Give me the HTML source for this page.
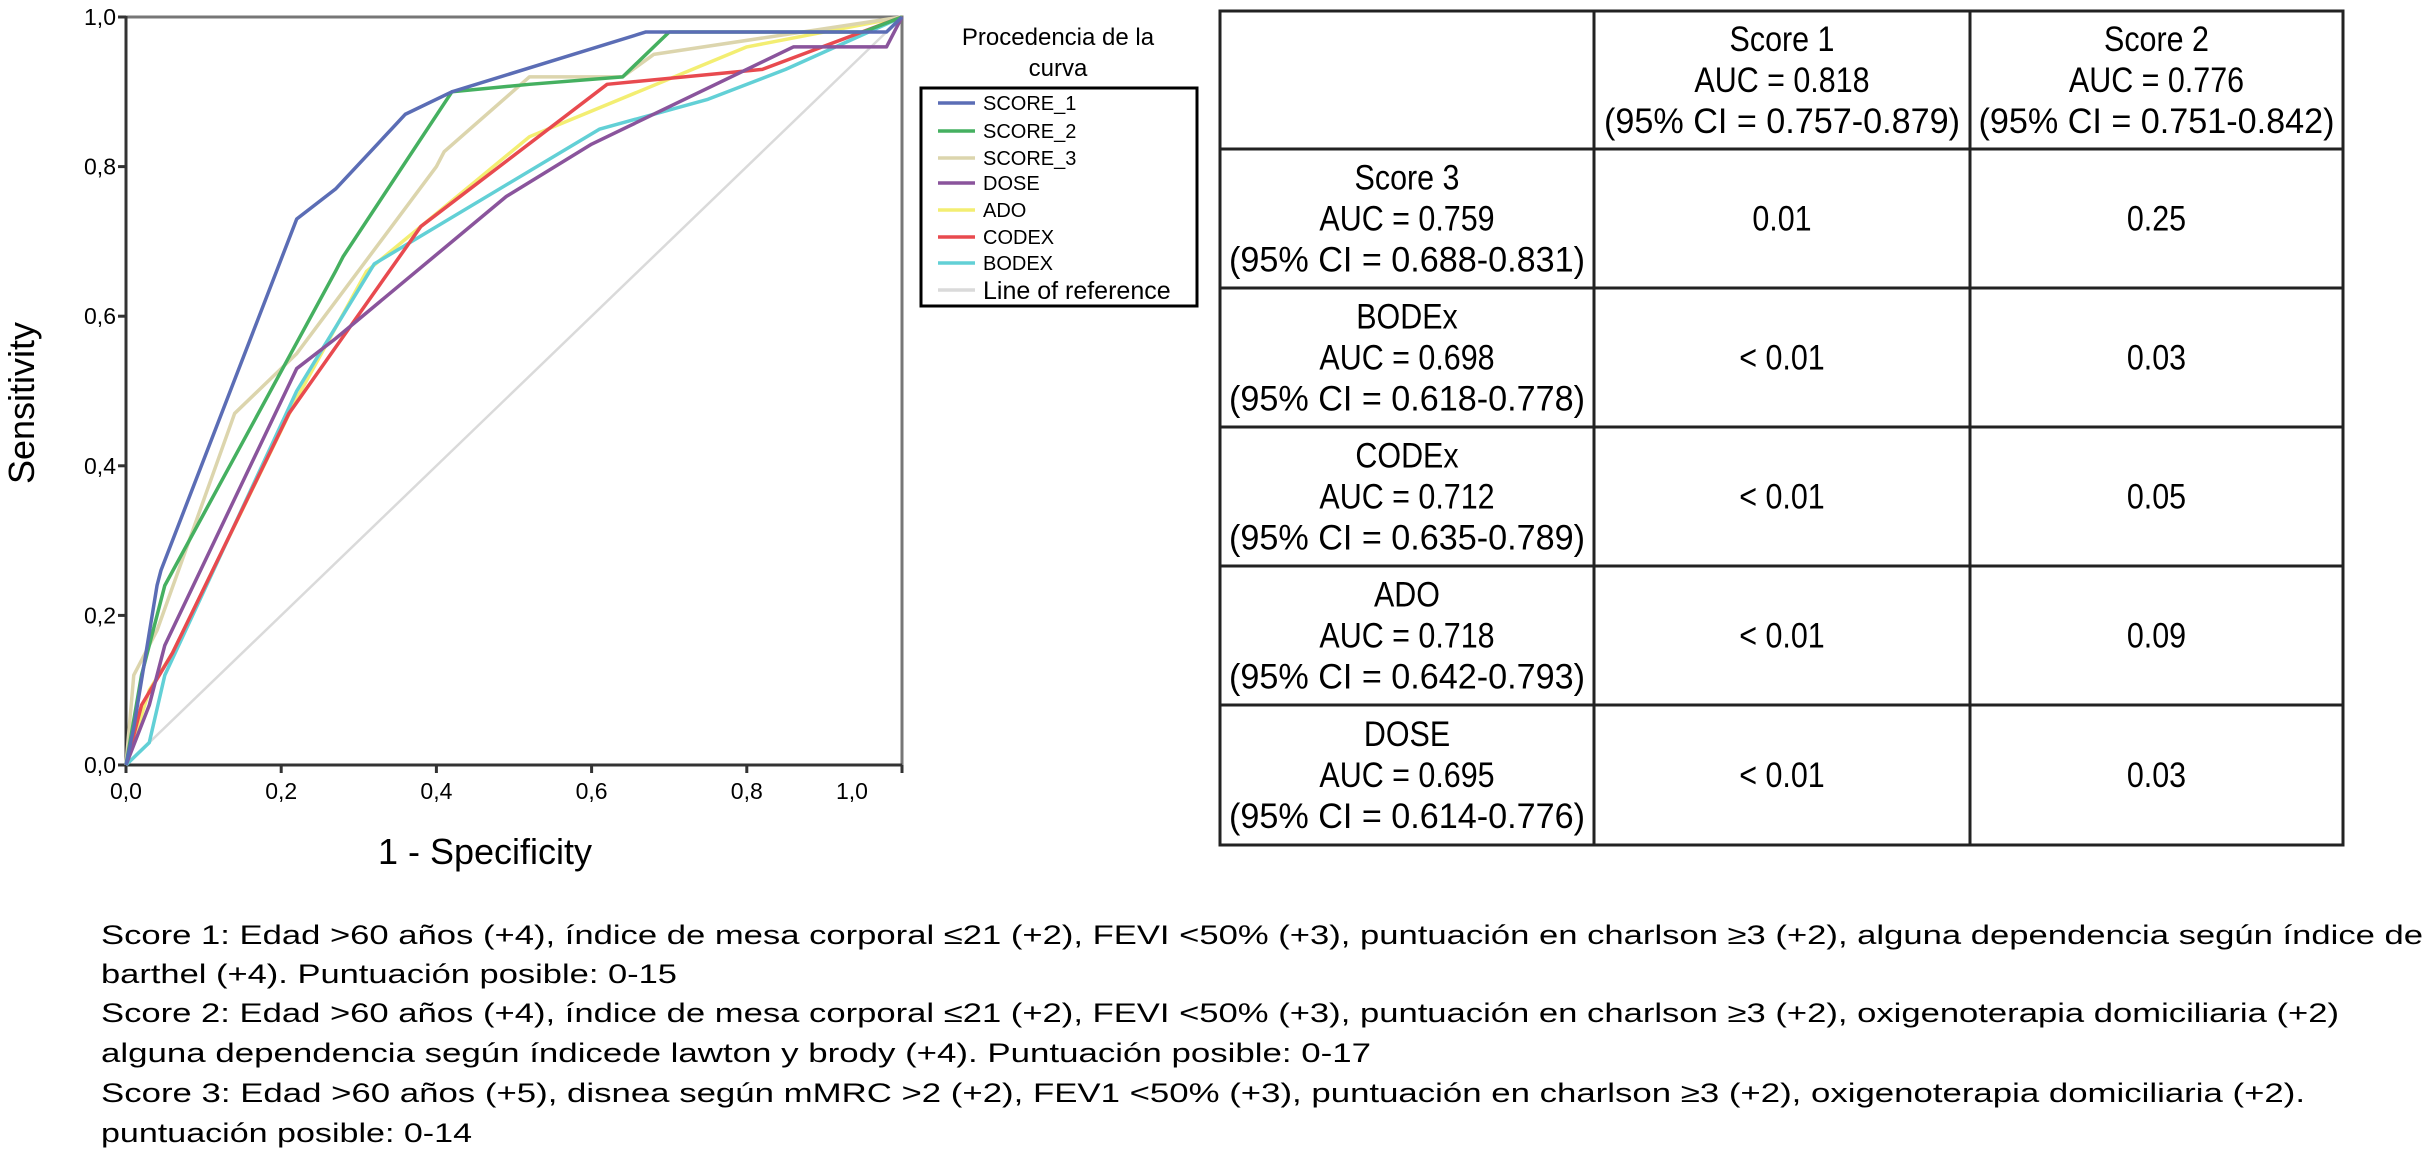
<!DOCTYPE html>
<html><head><meta charset="utf-8"><style>
html,body{margin:0;padding:0;background:#fff;}
svg{display:block;font-family:"Liberation Sans",sans-serif;}
</style></head><body>
<svg id="svg" width="2429" height="1161" viewBox="0 0 2429 1161" xmlns="http://www.w3.org/2000/svg">
<g id="plot"></g>
<g>
  <text x="1058" y="45" font-size="24" text-anchor="middle">Procedencia de la</text>
  <text x="1058" y="76" font-size="24" text-anchor="middle">curva</text>
  <rect x="921" y="88" width="276" height="218" fill="none" stroke="#000" stroke-width="3"/>
  <g id="legendItems"></g>
</g>
<g id="table"></g>
<g font-size="27">
  <text x="101" y="944" textLength="2322" lengthAdjust="spacingAndGlyphs">Score 1: Edad &gt;60 años (+4), índice de mesa corporal ≤21 (+2), FEVI &lt;50% (+3), puntuación en charlson ≥3 (+2), alguna dependencia según índice de</text>
  <text x="101" y="983" textLength="576" lengthAdjust="spacingAndGlyphs">barthel (+4). Puntuación posible: 0-15</text>
  <text x="101" y="1022" textLength="2238" lengthAdjust="spacingAndGlyphs">Score 2: Edad &gt;60 años (+4), índice de mesa corporal ≤21 (+2), FEVI &lt;50% (+3), puntuación en charlson ≥3 (+2), oxigenoterapia domiciliaria (+2)</text>
  <text x="101" y="1062" textLength="1270" lengthAdjust="spacingAndGlyphs">alguna dependencia según índicede lawton y brody (+4). Puntuación  posible: 0-17</text>
  <text x="101" y="1102" textLength="2204" lengthAdjust="spacingAndGlyphs">Score 3: Edad &gt;60 años (+5),  disnea según mMRC &gt;2 (+2), FEV1 &lt;50% (+3), puntuación en charlson ≥3 (+2), oxigenoterapia domiciliaria (+2).</text>
  <text x="101" y="1142" textLength="371" lengthAdjust="spacingAndGlyphs">puntuación posible: 0-14</text>
</g>
</svg>
<script>
const NS="http://www.w3.org/2000/svg";
const seriesNames=["SCORE_1","SCORE_2","SCORE_3","DOSE","ADO","CODEX","BODEX","Line of reference"];
const seriesColors=["#5b6db5","#45b060","#dcd5ad","#8a549c","#f3ee72","#e84a4f","#62d0d6","#dadada"];
const score1X=[0,0.01,0.04,0.045,0.22,0.27,0.36,0.42,0.67,0.98,1];
const score1Y=[0,0.05,0.24,0.26,0.73,0.77,0.87,0.9,0.98,0.98,1];
const score2X=[0,0.02,0.05,0.27,0.28,0.42,0.52,0.64,0.7,0.95,1];
const score2Y=[0,0.12,0.24,0.66,0.68,0.9,0.91,0.92,0.98,0.98,1];
const score3X=[0,0.01,0.04,0.14,0.22,0.4,0.41,0.52,0.64,0.68,1];
const score3Y=[0,0.12,0.18,0.47,0.55,0.8,0.82,0.92,0.92,0.95,1];
const doseX=[0,0.03,0.05,0.22,0.27,0.49,0.6,0.86,0.98,1];
const doseY=[0,0.08,0.16,0.53,0.57,0.76,0.83,0.96,0.96,1];
const adoX=[0,0.03,0.06,0.22,0.31,0.52,0.8,1];
const adoY=[0,0.1,0.15,0.49,0.66,0.84,0.96,1];
const codexX=[0,0.02,0.06,0.21,0.38,0.62,0.82,1];
const codexY=[0,0.08,0.15,0.47,0.72,0.91,0.93,1];
const bodexX=[0,0.03,0.05,0.22,0.32,0.61,0.75,0.85,1];
const bodexY=[0,0.03,0.12,0.5,0.67,0.85,0.89,0.93,1];
const refX=[0,1];
const refY=[0,1];
const tickValues=[0,0.2,0.4,0.6,0.8,1.0];
const tickLabels=["0,0","0,2","0,4","0,6","0,8","1,0"];
const headerCols=[["Score 1","AUC = 0.818","(95% CI = 0.757-0.879)"],["Score 2","AUC = 0.776","(95% CI = 0.751-0.842)"]];
const rowHeaders=[["Score 3","AUC = 0.759","(95% CI = 0.688-0.831)"],["BODEx","AUC = 0.698","(95% CI = 0.618-0.778)"],["CODEx","AUC = 0.712","(95% CI = 0.635-0.789)"],["ADO","AUC = 0.718","(95% CI = 0.642-0.793)"],["DOSE","AUC = 0.695","(95% CI = 0.614-0.776)"]];
const pScore1=["0.01","< 0.01","< 0.01","< 0.01","< 0.01"];
const pScore2=["0.25","0.03","0.05","0.09","0.03"];

const X0=126,X1=902,Y0=765,Y1=17;
function sx(v){return X0+v*(X1-X0);}
function sy(v){return Y0-v*(Y0-Y1);}
function mk(tag,attrs,parent,text){const e=document.createElementNS(NS,tag);for(const k in attrs)e.setAttribute(k,attrs[k]);if(text!==undefined)e.textContent=text;parent.appendChild(e);return e;}
const plot=document.getElementById('plot');
const fr=mk('path',{d:`M${X0},${Y1}H${X1}V${Y0}`,fill:'none',stroke:'#777','stroke-width':3},plot);


const ax=mk('path',{d:`M${X0},${Y1-1}V${Y0}H${X1}`,fill:'none',stroke:'#333','stroke-width':3},plot);


tickValues.forEach((v,i)=>{
  const t1=mk('line',{x1:X0-8,x2:X0,y1:sy(v),y2:sy(v),stroke:'#333','stroke-width':3},plot);
  
  
  const l1=mk('text',{x:X0-10,y:sy(v)+8,'font-size':23,'text-anchor':'end'},plot,tickLabels[i]);
  
  
  const t2=mk('line',{x1:sx(v),x2:sx(v),y1:Y0,y2:Y0+8,stroke:'#333','stroke-width':3},plot);
  
  
  const l2=mk('text',{x:sx(v)+(i==5?-50:0),y:Y0+34,'font-size':23,'text-anchor':'middle'},plot,tickLabels[i]);
  
  
});
const yt=mk('text',{x:0,y:0,'font-size':36,'text-anchor':'middle',transform:'translate(34,403) rotate(-90)'},plot,'Sensitivity');


const xt=mk('text',{x:485,y:864,'font-size':36,'text-anchor':'middle'},plot,'1 - Specificity');


const allX=[score1X,score2X,score3X,doseX,adoX,codexX,bodexX,refX];
const allY=[score1Y,score2Y,score3Y,doseY,adoY,codexY,bodexY,refY];
const order=[7,4,2,6,5,3,1,0];
order.forEach(s=>{
  const pts=allX[s].map((x,i)=>sx(x)+','+sy(allY[s][i])).join(' ');
  const pl=mk('polyline',{points:pts,fill:'none',stroke:seriesColors[s],'stroke-width':s==7?2.5:3.5,'stroke-linejoin':'round'},plot);
  
  
});
const li=document.getElementById('legendItems');
const ly=[103,131,158,183,210,237,263,290];
seriesNames.forEach((n,i)=>{
  const l=mk('line',{x1:938,x2:975,y1:ly[i],y2:ly[i],stroke:seriesColors[i],'stroke-width':3.5},li);
  
  
  const t=mk('text',{x:983,y:ly[i]+(i==7?9:7),'font-size':i==7?25:20},li,n);
  
  
});
const tb=document.getElementById('table');
const cx=[1220,1594,1970,2343];
const ry=[11,149,288,427,566,705,845];
const gp=mk('rect',{x:cx[0],y:ry[0],width:cx[3]-cx[0],height:ry[6]-ry[0],fill:'none',stroke:'#222','stroke-width':3},tb);


[cx[1],cx[2]].forEach(x=>{const l=mk('line',{x1:x,x2:x,y1:ry[0],y2:ry[6],stroke:'#222','stroke-width':3},tb);});
ry.slice(1,6).forEach(y=>{const l=mk('line',{x1:cx[0],x2:cx[3],y1:y,y2:y,stroke:'#222','stroke-width':3},tb);});
function cell(lines,x0,x1,y0,y1,name){
  const cxm=(x0+x1)/2, cym=(y0+y1)/2, lh=41;
  const start=cym-(lines.length-1)*lh/2;
  lines.forEach((s,i)=>{
    const attrs={x:cxm,y:start+i*lh+12,'font-size':35,'text-anchor':'middle'};
    if(s.length>15){attrs.textLength=356;attrs.lengthAdjust='spacingAndGlyphs';}
    else{attrs.transform=`translate(${cxm},0) scale(0.87,1) translate(${-cxm},0)`;}
    const t=mk('text',attrs,tb,s);
    
    
  });
}
headerCols.forEach((h,i)=>cell(h,cx[i+1],cx[i+2],ry[0],ry[1],'column-header'));
rowHeaders.forEach((h,r)=>{
  cell(h,cx[0],cx[1],ry[r+1],ry[r+2],'row-header');
  cell([pScore1[r]],cx[1],cx[2],ry[r+1],ry[r+2],'p-value-score1');
  cell([pScore2[r]],cx[2],cx[3],ry[r+1],ry[r+2],'p-value-score2');
});
</script>
</body></html>
